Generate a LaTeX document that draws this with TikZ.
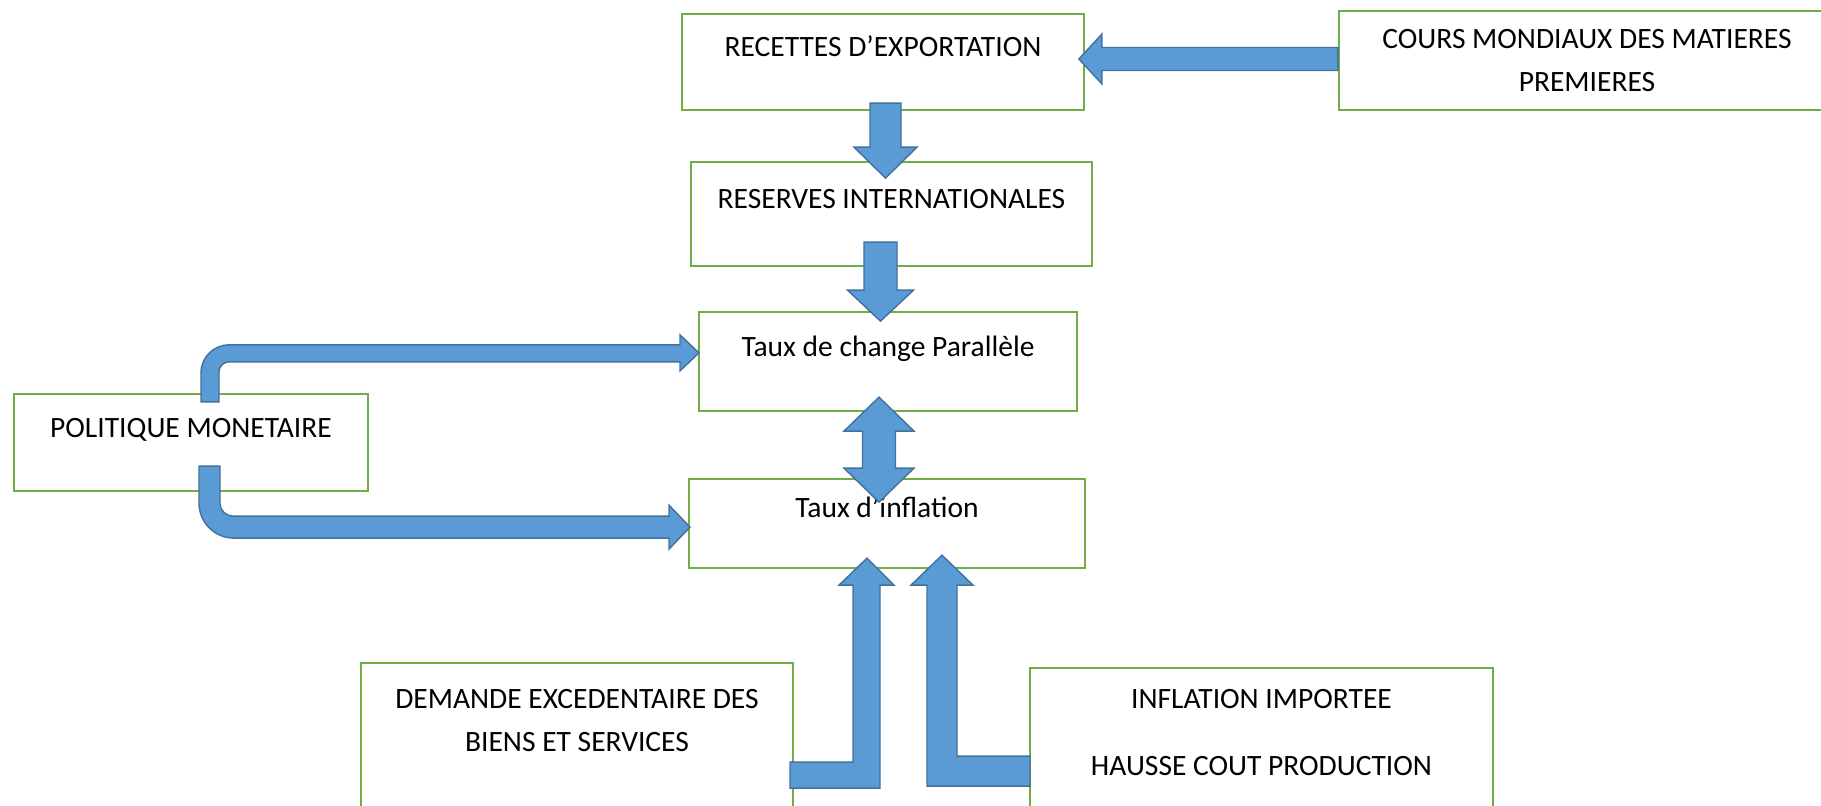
\documentclass[tikz,border=0pt]{standalone}
\usepackage{fontspec}
\setmainfont{Carlito}
\usepackage{tikz}

\definecolor{boxgreen}{HTML}{70AD47}
\definecolor{arrowblue}{HTML}{5B9BD5}
\definecolor{arrowedge}{HTML}{41719C}

\begin{document}
\begin{tikzpicture}[
		x=0.02cm, y=-0.02cm,
		box/.style={rectangle, draw=boxgreen, line width=1.3pt, fill=white, inner sep=0pt, font=\fontsize{16.8}{25}\selectfont},
		barrow/.style={fill=arrowblue, draw=arrowedge, line width=0.8pt, line join=miter}
	]
	\useasboundingbox (0,0) rectangle (1821,805);
	\node[box, minimum width=8.04cm, text height=0.85cm, text depth=1.07cm] (recettes) at (883,62) {RECETTES D’EXPORTATION};
	\node[box, minimum width=9.92cm, text height=0.74cm, text depth=1.24cm] (cours) at (1587,60.5) {\begin{tabular}[t]{@{}c@{}}COURS MONDIAUX DES MATIERES\\PREMIERES\end{tabular}};
	\node[box, minimum width=8.02cm, text height=0.92cm, text depth=1.16cm] (reserves) at (891.5,214) {RESERVES INTERNATIONALES};
	\node[box, minimum width=7.56cm, text height=0.88cm, text depth=1.10cm] (change) at (888,361.5) {Taux de change Parallèle};
	\node[box, minimum width=7.92cm, text height=0.76cm, text depth=1.02cm] (inflation) at (887,523.5) {Taux d’inflation};
	\node[box, minimum width=7.08cm, text height=0.86cm, text depth=1.08cm] (politique) at (191,442.5) {POLITIQUE MONETAIRE};
	\node[box, minimum width=8.64cm, text height=0.90cm, text depth=2.24cm] (demande) at (577,741.5) {\begin{tabular}[t]{@{}c@{}}DEMANDE EXCEDENTAIRE DES\\BIENS ET SERVICES\end{tabular}};
	\node[box, minimum width=9.26cm, text height=0.80cm, text depth=2.24cm] (importee) at (1261.5,744) {\begin{tabular}[t]{@{}c@{}}INFLATION IMPORTEE\\[13.5pt]HAUSSE COUT PRODUCTION\end{tabular}};
	% straight block arrows
	\draw[barrow, shift={(cours.west)}] (0,-13) -- (-236,-13) -- (-236,-26.5) -- (-259,-1.5) -- (-236,23.5) -- (-236,10) -- (0,10) -- cycle;
	\draw[barrow, shift={(recettes.south)}] (-13,-8) -- (18,-8) -- (18,36) -- (34,36) -- (2.5,67) -- (-29,36) -- (-13,36) -- cycle;
	\draw[barrow, shift={(reserves.south)}] (-27.5,-25) -- (5.5,-25) -- (5.5,23) -- (22,23) -- (-11,54) -- (-44,23) -- (-27.5,23) -- cycle;
	\draw[barrow, shift={(change.south)}] (-9,-15) -- (26,19) -- (7.5,19) -- (7.5,56) -- (26,56) -- (-9,90) -- (-44,56) -- (-25.5,56) -- (-25.5,19) -- (-44,19) -- cycle;
	% bent arrows
	\draw[barrow, shift={(politique.north)}] (10,9) -- (10,-20) arc(180:270:28) -- (489,-48) -- (489,-58) -- (508,-40) -- (489,-22) -- (489,-31) -- (38,-31) arc(270:180:10) -- (28,9) -- cycle;
	\draw[barrow, shift={(politique.south)}] (8,-26) -- (8,11) arc(180:90:35) -- (478,46) -- (478,57) -- (499,35) -- (478,13) -- (478,24) -- (42,24) arc(90:180:13) -- (29,-26) -- cycle;
	\draw[barrow, shift={(inflation.south)}] (-20,-11) -- (7,16) -- (-7,16) -- (-7,219) -- (-97,219) -- (-97,193) -- (-34,193) -- (-34,16) -- (-48,16) -- cycle;
	\draw[barrow, shift={(inflation.south)}] (55,-14) -- (86,16) -- (70,16) -- (70,187) -- (143,187) -- (143,217) -- (40,217) -- (40,16) -- (24,16) -- cycle;
\end{tikzpicture}
\end{document}
